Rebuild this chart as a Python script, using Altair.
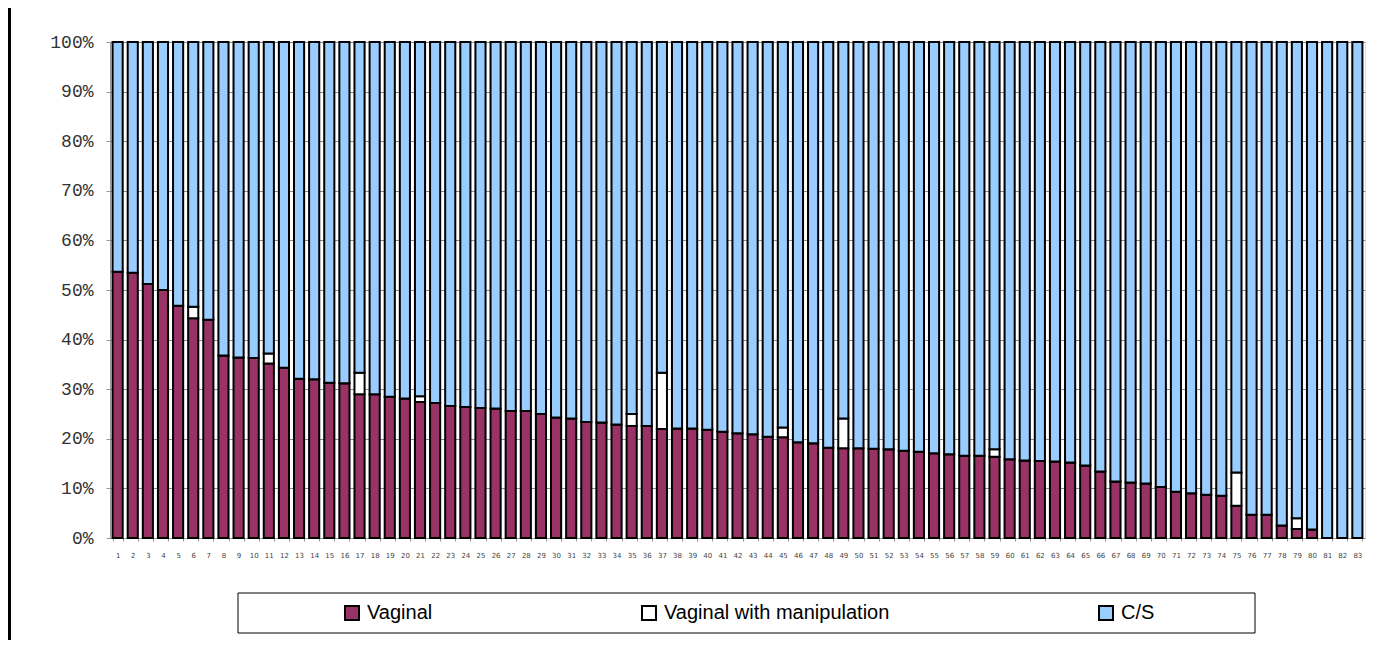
import altair as alt
import pandas as pd

categories = [str(i) for i in range(1, 84)]

vaginal = [53.7, 53.5, 51.2, 50.0, 46.8, 44.3, 44.0, 36.8, 36.4, 36.3,
           35.2, 34.3, 32.1, 32.0, 31.3, 31.2, 29.0, 29.0, 28.5, 28.1,
           27.4, 27.2, 26.6, 26.4, 26.2, 26.1, 25.6, 25.6, 25.0, 24.3,
           24.1, 23.4, 23.3, 22.9, 22.6, 22.6, 22.0, 22.1, 22.1, 21.8,
           21.4, 21.1, 20.9, 20.4, 20.3, 19.3, 19.1, 18.2, 18.1, 18.1,
           18.0, 17.9, 17.6, 17.4, 17.1, 16.9, 16.6, 16.6, 16.4, 15.9,
           15.6, 15.5, 15.4, 15.2, 14.6, 13.4, 11.4, 11.2, 11.0, 10.3,
           9.3, 9.0, 8.7, 8.5, 6.5, 4.7, 4.7, 2.5, 1.8, 1.7,
           0.0, 0.0, 0.0]

manipulation = [0.0] * 83
for idx, val in {6: 2.3, 11: 2.0, 17: 4.3, 21: 1.2, 35: 2.4, 37: 11.3,
                 45: 2.0, 49: 6.0, 59: 1.5, 75: 6.7, 79: 2.2}.items():
    manipulation[idx - 1] = val

cs = [round(100 - v - m, 1) for v, m in zip(vaginal, manipulation)]

series_names = ["Vaginal", "Vaginal with manipulation", "C/S"]
series_colors = ["#993366", "#FFFFFF", "#99CCFF"]

rows = []
for i, c in enumerate(categories):
    for k, (name, vals) in enumerate(zip(series_names, [vaginal, manipulation, cs])):
        rows.append({"id": c, "series": name, "value": vals[i], "order": k})
df = pd.DataFrame(rows)

W, H = 1255, 496

bars = alt.Chart(df).mark_bar(stroke="black", strokeWidth=2).encode(
    x=alt.X("id:O", sort=categories, title=None,
            scale=alt.Scale(paddingInner=0.33, paddingOuter=0.17),
            axis=alt.Axis(labelAngle=0, labelFont="DejaVu Sans", labelFontSize=7,
                          labelColor="#444444", domainColor="#999999", tickColor="#999999",
                          tickSize=3, tickBand="extent", labelPadding=10)),
    y=alt.Y("value:Q", stack="normalize", title=None,
            scale=alt.Scale(domain=[0, 1]),
            axis=alt.Axis(format=".0%", values=[i / 10 for i in range(11)],
                          labelFont="Liberation Mono", labelFontSize=18, labelColor="#333333",
                          labelFontWeight="normal",
                          domainColor="#999999", tickColor="#999999", tickSize=4,
                          labelPadding=13, gridColor="#8c8c8c", gridWidth=1)),
    color=alt.Color("series:N", sort=series_names,
                    scale=alt.Scale(domain=series_names, range=series_colors),
                    legend=alt.Legend(title=None, orient="none", direction="horizontal",
                                      legendX=232, legendY=561, padding=0,
                                      columnPadding=205, labelOffset=5,
                                      symbolType="square", symbolSize=196,
                                      symbolStrokeColor="black", symbolStrokeWidth=2,
                                      symbolOpacity=1,
                                      labelFont="Liberation Sans", labelFontSize=20,
                                      labelColor="black", labelLimit=400)),
    order=alt.Order("order:Q", sort="ascending"),
)

one = pd.DataFrame({"a": [0]})
frame = alt.Chart(one).mark_rect(fill=None, stroke="black", strokeWidth=1).encode(
    x=alt.value(128), x2=alt.value(1145), y=alt.value(551), y2=alt.value(591))

left_line = alt.Chart(one).mark_rule(color="black", strokeWidth=3).encode(
    x=alt.value(-100.5), y=alt.value(-42), y2=alt.value(606))

chart = alt.layer(bars, frame, left_line).properties(
    width=W, height=H,
    autosize=alt.AutoSizeParams(type="none"),
    padding={"left": 102, "top": 34, "right": 10, "bottom": 102},
).configure_view(stroke="#999999", strokeWidth=1).configure(background="white")

chart.save("out.html", embed_options={"renderer": "svg", "actions": False})
